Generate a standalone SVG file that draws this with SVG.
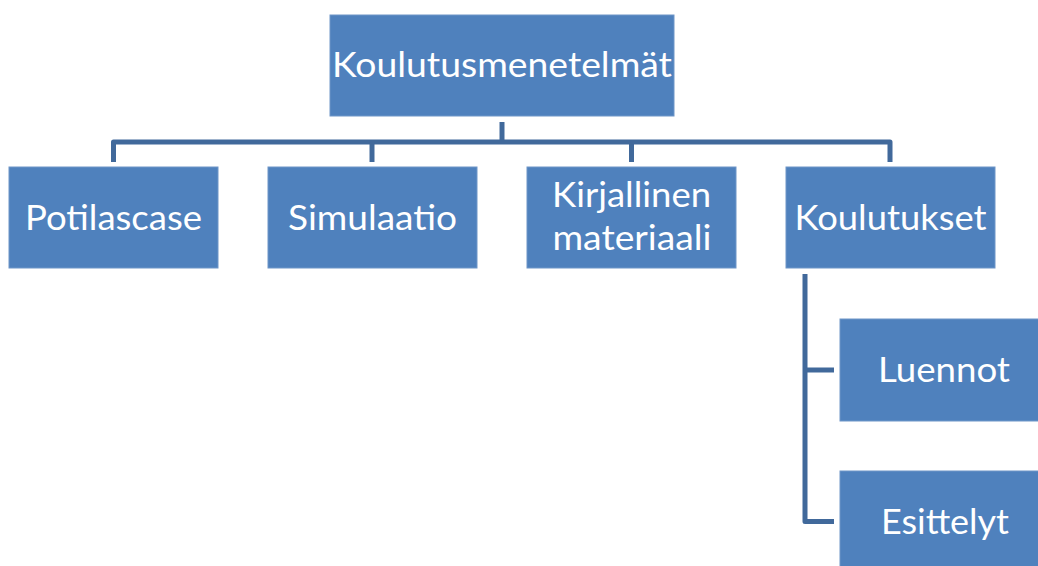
<svg xmlns="http://www.w3.org/2000/svg" width="1038" height="566" viewBox="0 0 1038 566">
<style>
.box{fill:#4f81bd;stroke:#6f96c8;stroke-width:1}
.t{fill:#ffffff;font-family:Lato,"Open Sans","Liberation Sans",sans-serif;font-size:35.5px;text-anchor:middle}
.c{fill:none;stroke:#41699b;stroke-width:5;stroke-linejoin:round}
</style>
<rect width="1038" height="566" fill="#ffffff"/>
<g id="connectors">
<path class="c" d="M502,122 V142"/>
<path class="c" d="M113.5,162 V142 H890 V162"/>
<path class="c" d="M372,142 V162"/>
<path class="c" d="M631.5,142 V162"/>
<path class="c" d="M805,274 V521.5 H834"/>
<path class="c" d="M805,370 H834"/>
</g>
<g id="n-root">
<rect class="box" x="330" y="15" width="344" height="101"/>
<text class="t" x="502" y="77" textLength="340" lengthAdjust="spacingAndGlyphs">Koulutusmenetelmät</text>
</g>
<g id="n-potilascase">
<rect class="box" x="9" y="167" width="209" height="101"/>
<text class="t" x="113.5" y="230" textLength="177" lengthAdjust="spacingAndGlyphs">Potilascase</text>
</g>
<g id="n-simulaatio">
<rect class="box" x="268" y="167" width="209" height="101"/>
<text class="t" x="372.5" y="230" textLength="169" lengthAdjust="spacingAndGlyphs">Simulaatio</text>
</g>
<g id="n-kirjallinen">
<rect class="box" x="527" y="167" width="209" height="101"/>
<text class="t" x="631.5" y="207" textLength="159" lengthAdjust="spacingAndGlyphs">Kirjallinen</text>
<text class="t" x="632" y="250" textLength="159" lengthAdjust="spacingAndGlyphs">materiaali</text>
</g>
<g id="n-koulutukset">
<rect class="box" x="786" y="167" width="209" height="101"/>
<text class="t" x="890.5" y="230" textLength="192" lengthAdjust="spacingAndGlyphs">Koulutukset</text>
</g>
<g id="n-luennot">
<rect class="box" x="840" y="319" width="209" height="102"/>
<text class="t" x="944" y="382" textLength="132" lengthAdjust="spacingAndGlyphs">Luennot</text>
</g>
<g id="n-esittelyt">
<rect class="box" x="840" y="471" width="209" height="102"/>
<text class="t" x="945" y="534" textLength="128" lengthAdjust="spacingAndGlyphs">Esittelyt</text>
</g>
</svg>
